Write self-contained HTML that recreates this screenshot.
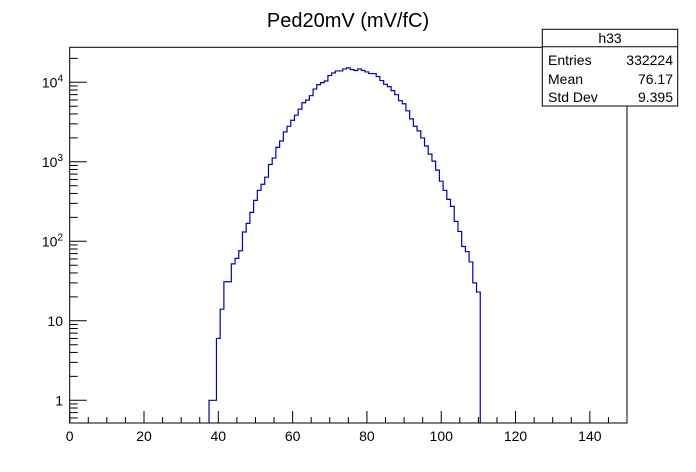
<!DOCTYPE html>
<html><head><meta charset="utf-8"><style>
html,body{margin:0;padding:0;background:#fff;}
svg{display:block;font-family:"Liberation Sans",sans-serif;}
</style></head><body>
<svg id="c" width="696" height="472" viewBox="0 0 696 472">
<rect x="0" y="0" width="696" height="472" fill="#fff"/>
<text x="348" y="27" text-anchor="middle" font-size="20" fill="#000">Ped20mV (mV/fC)</text>
<g id="ticks"></g>
<path id="hist" fill="none" stroke="#0000b0" stroke-width="1.2"/>
<rect x="69.7" y="47.3" width="557.3" height="375.7" fill="none" stroke="#000" stroke-width="1"/>
<g>
<rect x="542.3" y="29.3" width="135.4" height="76.7" fill="#fff" stroke="#000" stroke-width="1"/>
<line x1="542.3" y1="46.7" x2="677.7" y2="46.7" stroke="#000"/>
<text x="610" y="43" text-anchor="middle" font-size="14">h33</text>
<text x="548" y="65" font-size="14">Entries</text>
<text x="673" y="65" text-anchor="end" font-size="14">332224</text>
<text x="548" y="84" font-size="14">Mean</text>
<text x="673" y="84" text-anchor="end" font-size="14">76.17</text>
<text x="548" y="102" font-size="14">Std Dev</text>
<text x="673" y="102" text-anchor="end" font-size="14">9.395</text>
</g>
</svg>
<script>
const binStart = 37.5;
const binWidth = 1;
const counts = [1,1,6,14,31,31,52,61,76,131,168,231,327,438,522,640,925,1114,1518,1828,2377,2797,3334,3855,4592,5532,5970,6790,8226,9350,9910,10380,12160,13120,13900,13900,14730,15180,14490,14060,14730,14060,13500,12880,12880,11810,10510,9440,8820,7850,6990,5870,5370,4380,3470,2800,2450,1995,1580,1250,1020,785,570,438,337,275,178,133,86,74,55,30,23];
const xTickLabels = [0,20,40,60,80,100,120,140];
const yTickLabels = ["1","10","10²","10³","10⁴"];
const X0=69.7, X1=627, XMIN=0, XMAX=150;
const Y1PX=400.3, DEC=79.5, YB=423, YT=47.3;
function sx(v){return X0+(v-XMIN)*(X1-X0)/(XMAX-XMIN);}
function sy(v){ if(v<=0) return YB; const y=Y1PX-Math.log10(v)*DEC; return Math.max(YT,Math.min(YB,y)); }
const NS='http://www.w3.org/2000/svg';
const g=document.getElementById('ticks');
function line(x1,y1,x2,y2,name){const l=document.createElementNS(NS,'line');l.setAttribute('x1',x1);l.setAttribute('y1',y1);l.setAttribute('x2',x2);l.setAttribute('y2',y2);l.setAttribute('stroke','#000');l.setAttribute('stroke-width','1');


g.appendChild(l);}
function text(x,y,s,anchor,name){const t=document.createElementNS(NS,'text');t.setAttribute('x',x);t.setAttribute('y',y);t.setAttribute('font-size','14');t.setAttribute('text-anchor',anchor);t.textContent=s;


g.appendChild(t);}
for(let v=0; v<=150; v+=5){const x=sx(v);const major=v%20===0;line(x,YB,x,YB-(major?12:6),major?'x-major-tick':'x-minor-tick');}
xTickLabels.forEach(v=>text(sx(v),441,String(v),'middle','x-tick-label'));
for(let d=0; d<=4; d++){
  for(let m=1;m<=9;m++){const v=m*Math.pow(10,d);const y=Y1PX-Math.log10(v)*DEC;if(y<YT)continue;line(X0,y,X0+(m===1?17:8),y,m===1?'y-major-tick':'y-minor-tick');}
}
for(let m=6;m<=9;m++){const y=Y1PX-Math.log10(m/10)*DEC;if(y<=YB)line(X0,y,X0+8,y,'y-minor-tick');}
yTickLabels.forEach((s,i)=>{const y=Y1PX-i*DEC;
  if(i<2){text(63,y+5,s,'end','y-tick-label');}
  else{const t=document.createElementNS(NS,'text');t.setAttribute('x',63);t.setAttribute('y',y+5);t.setAttribute('font-size','14');t.setAttribute('text-anchor','end');
   t.innerHTML='10<tspan font-size="10" dy="-6">'+i+'</tspan>';
   
   
   g.appendChild(t);}
});
let d='M'+sx(binStart)+','+YB;
counts.forEach((c,i)=>{const xa=sx(binStart+i*binWidth),xb=sx(binStart+(i+1)*binWidth),y=sy(c);d+=' L'+xa+','+y+' L'+xb+','+y;});
d+=' L'+sx(binStart+counts.length*binWidth)+','+YB;
document.getElementById('hist').setAttribute('d',d);
</script>
</body></html>
